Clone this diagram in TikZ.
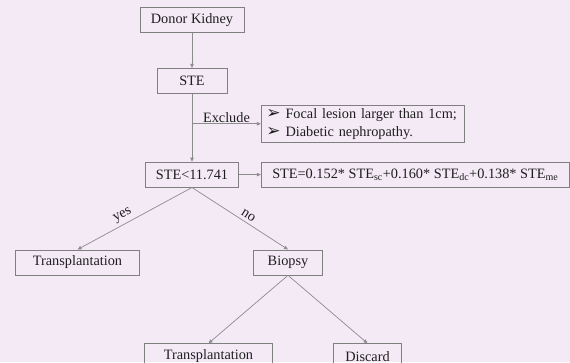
\documentclass[tikz,border=0pt]{standalone}
\usepackage{fontspec}
\setmainfont{Liberation Serif}
\newfontfamily\dingfont{DejaVu Sans}
\usetikzlibrary{positioning, arrows.meta}
\definecolor{bgpink}{HTML}{F4EAF6}
\definecolor{boxgray}{HTML}{7F7F7F}
\definecolor{linegray}{HTML}{8C8C8C}
\definecolor{inkgray}{HTML}{1E1E1E}
\tikzset{
  flowbox/.style={draw=boxgray, line width=0.8pt, minimum height=25pt, inner xsep=0pt, inner ysep=2pt, text=inkgray, font=\fontsize{14.3}{17.5}\selectfont},
  flowline/.style={draw=linegray, line width=0.7pt, -{Triangle[length=4pt,width=3.5pt]}},
  edgelabel/.style={text=inkgray, inner sep=3pt, font=\fontsize{14.3}{17.5}\selectfont}
}
\newcommand{\bulletmark}{{\dingfont\fontsize{17}{13}\selectfont ➢}\hspace{5pt}}

\begin{document}
\begin{tikzpicture}[x=1pt, y=1pt]
  % Background
  \fill[bgpink] (0,0) rectangle (570,-362);
  \useasboundingbox (0,0) rectangle (570,-362);

  % Nodes
  \node[flowbox, minimum width=104pt] (donor) at (192,-20) {Donor Kidney};
  \node[flowbox, minimum width=70pt, below=35pt of donor] (ste) {STE};
  \node[flowbox, minimum width=93pt, below=68pt of ste] (cond) {STE<11.741};
  \node[flowbox, minimum width=308pt, right=22pt of cond] (formula)
    {STE=0.152* STE\textsubscript{sc}+0.160* STE\textsubscript{dc}+0.138* STE\textsubscript{me}};
  \node[flowbox, inner xsep=5pt, inner ysep=3pt, text width=193pt, align=left,
    font=\fontsize{14.3}{18}\selectfont,
    above right=19pt and 0pt of formula.north west] (exclusion)
    {\bulletmark Focal lesion larger than 1cm;\\ \bulletmark Diabetic nephropathy.};
  \node[flowbox, minimum width=124pt, below=62pt of cond.south, xshift=-114.5pt] (trans1) {Transplantation};
  \node[flowbox, minimum width=69pt, below=62pt of cond.south, xshift=96pt] (biopsy) {Biopsy};
  \node[flowbox, minimum width=128pt, below=68pt of biopsy.south, xshift=-79.5pt] (trans2) {Transplantation};
  \node[flowbox, minimum width=68pt, below=68pt of biopsy.south, xshift=79.5pt] (discard) {Discard};

  % Main column
  \draw[flowline] (donor) -- (ste);
  \draw[flowline] (ste) -- (cond);

  % Exclusion branch
  \draw[flowline] (ste.south |- exclusion.west) -- (exclusion.west)
    node[midway, above, edgelabel, inner sep=1pt] {Exclude};

  % Formula
  \draw[flowline] (cond) -- (formula);

  % Decision
  \draw[flowline] (cond.south) -- (trans1.north) node[pos=0.57, sloped, above, edgelabel] {yes};
  \draw[flowline] (cond.south) -- (biopsy.north) node[pos=0.55, sloped, above, edgelabel] {no};

  % Biopsy outcome
  \draw[flowline] (biopsy.south) -- (trans2.north);
  \draw[flowline] (biopsy.south) -- (discard.north);
\end{tikzpicture}
\end{document}
